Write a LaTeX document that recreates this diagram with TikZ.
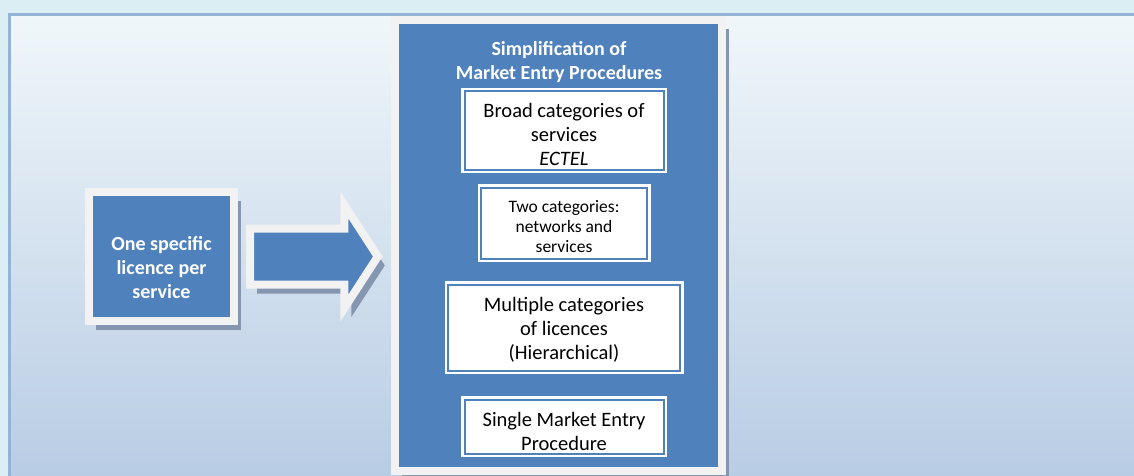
\documentclass[tikz,border=0pt]{standalone}
\usepackage{fontspec}
\setmainfont{Carlito}
\usepackage{tikz}
\usetikzlibrary{positioning,shapes.arrows,shadows}
\definecolor{bgcyan}{HTML}{DAEEF3}
\definecolor{panelline}{HTML}{95B3D7}
\definecolor{paneltop}{HTML}{F0F7FA}
\definecolor{panelbot}{HTML}{B8CCE4}
\definecolor{mblue}{HTML}{4F81BD}
\definecolor{frame}{HTML}{F2F2F2}
\definecolor{shadowgray}{HTML}{8596B0}

\begin{document}
\begin{tikzpicture}[x=1pt, y=-1pt,
  box/.style={fill=mblue, draw=frame, line width=8pt, inner sep=0pt, outer sep=0pt,
    drop shadow={shadow xshift=7pt, shadow yshift=-9pt, fill=shadowgray, opacity=1}},
  boxtext/.style={text=white, align=center, font=\bfseries\fontsize{20}{24}\selectfont},
  inbox/.style={fill=white, draw=mblue, line width=2pt, inner sep=0pt, outer sep=0pt,
    preaction={draw=white, line width=7pt}, align=center, text depth=0pt,
    font=\fontsize{20.5}{24}\selectfont}]
  \useasboundingbox (0,0) rectangle (1134,476);
  \fill[bgcyan] (0,0) rectangle (1134,476);
  \draw[draw=panelline, line width=3pt, top color=paneltop, bottom color=panelbot]
    (9,14.5) rectangle (1150,478);

  \node[box, boxtext, minimum width=145pt, minimum height=129pt, text height=85pt]
    (lic) at (161.5,256.5) {One specific\\licence per\\service};
  \node[box, single arrow, minimum height=127.8pt, inner xsep=0pt, inner ysep=24pt,
    single arrow head extend=23.5pt, single arrow tip angle=114,
    right=16pt of lic, anchor=tail] (arr) {};

  \node[box, minimum width=327pt, minimum height=451pt] (entry) at (558.5,245.5) {};
  \node[boxtext] (title) at (559,62) {Simplification of\\Market Entry Procedures};

  \node[inbox, minimum width=199pt, minimum height=78pt, text height=70pt]
    (bcat) at (564,130.5) {Broad categories of\\services\\\textit{ECTEL}};
  \node[inbox, minimum width=166pt, minimum height=71pt, text height=59pt,
    font=\fontsize{17.5}{20}\selectfont, below=18pt of bcat]
    (twocat) {Two categories:\\networks and\\services};
  \node[inbox, minimum width=232pt, minimum height=86pt, text height=64pt,
    below=26pt of twocat] (multicat) {Multiple categories\\of licences\\(Hierarchical)};
  \node[inbox, minimum width=199pt, minimum height=54pt, text height=48pt,
    below=29pt of multicat] (single) {Single Market Entry\\Procedure};
\end{tikzpicture}
\end{document}
